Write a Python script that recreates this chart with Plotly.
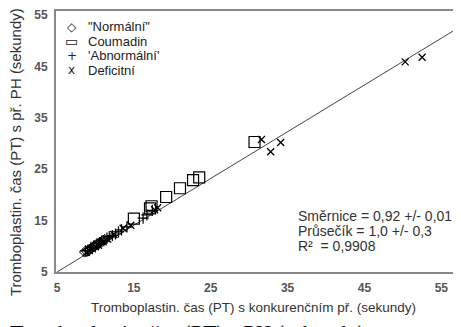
import plotly.graph_objects as go

# ---- data ----
normal_x = [8.6, 8.9, 9.1, 9.3, 9.5, 9.7, 9.9, 10.1, 10.3, 10.6, 10.9, 11.2]
normal_y = [8.9, 9.0, 9.3, 9.4, 9.6, 9.9, 10.0, 10.3, 10.4, 10.8, 11.0, 11.3]

coumadin_x = [15.0, 17.1, 17.3, 19.2, 21.0, 22.7, 23.5, 30.7]
coumadin_y = [15.4, 17.4, 17.8, 19.6, 21.3, 22.9, 23.4, 30.3]

abnormal_x = [8.7, 9.0, 9.4, 9.8, 10.2, 10.5, 10.8, 11.1, 11.5, 11.8, 12.2, 12.6, 13.0, 13.4, 14.1, 16.2, 16.7, 17.4]
abnormal_y = [9.1, 9.2, 9.8, 10.1, 10.5, 10.6, 11.0, 11.1, 11.6, 11.9, 12.1, 12.4, 12.8, 13.2, 13.8, 15.5, 16.1, 17.0]

deficit_x = [8.8, 9.2, 9.6, 10.0, 10.4, 11.0, 11.6, 12.4, 13.6, 14.6, 17.7, 18.1, 31.6, 32.8, 34.1, 50.3, 52.5]
deficit_y = [8.8, 9.2, 9.5, 9.9, 10.2, 10.9, 11.4, 12.3, 13.5, 14.1, 17.1, 17.5, 30.8, 28.4, 30.2, 45.9, 46.8]

fit_x = [5.0, 57.3]
fit_y = [5.0, 52.6]

tick_vals = [5, 15, 25, 35, 45, 55]
tick_text = ["5", "15", "25", "35", "45", "55"]

names = ['"Normální"', "Coumadin", "'Abnormální'", "Deficitní"]
legend_glyphs = ["◇", "▭", "+", "x"]
stats_lines = ["Směrnice = 0,92 +/- 0,01", "Průsečík = 1,0 +/- 0,3", "R²  = 0,9908"]
x_title = "Tromboplastin. čas (PT) s konkurenčním př. (sekundy)"
y_title = "Tromboplastin. čas (PT) s př. PH (sekundy)"
caption = "Tromboplastin. čas (PT) s PH (sekundy)"

FONT = "Liberation Sans, Arial, sans-serif"

# the page body adds an 8px offset; layout is expressed in window pixels and shifted
OFF = 8
PL, PT, PH = 56 - OFF, 9 - OFF, 263
FIG_W, FIG_H = 461 - OFF, 327 - OFF
PW = FIG_W - PL


def px_x(p):
    return (p - OFF - PL) / PW


def px_y(p):
    return (PT + PH - (p - OFF)) / PH


fig = go.Figure()
fig.add_trace(go.Scatter(x=fit_x, y=fit_y, mode="lines", line=dict(color="#444", width=1),
                         showlegend=False, hoverinfo="skip"))
fig.add_trace(go.Scatter(x=normal_x, y=normal_y, mode="markers", name=names[0], showlegend=False,
                         marker=dict(symbol="diamond-open", size=8, color="black",
                                     line=dict(width=1, color="black"))))
fig.add_trace(go.Scatter(x=coumadin_x, y=coumadin_y, mode="markers", name=names[1], showlegend=False,
                         marker=dict(symbol="square-open", size=11, color="black",
                                     line=dict(width=1.2, color="black"))))
fig.add_trace(go.Scatter(x=abnormal_x, y=abnormal_y, mode="markers", name=names[2], showlegend=False,
                         marker=dict(symbol="cross-thin", size=8, color="black",
                                     line=dict(width=1.2, color="black"))))
fig.add_trace(go.Scatter(x=deficit_x, y=deficit_y, mode="markers", name=names[3], showlegend=False,
                         marker=dict(symbol="x-thin", size=7, color="black",
                                     line=dict(width=1.3, color="black"))))

axis_common = dict(
    showgrid=False, zeroline=False, ticks="", showline=True, linecolor="#888",
    linewidth=2, mirror=True, tickvals=tick_vals, ticktext=tick_text,
    tickfont=dict(family=FONT, size=12, color="#555", weight="bold"),
    ticklabeloverflow="allow", ticklabelstandoff=4,
)

fig.update_xaxes(range=[4.87, 57.3], **axis_common)
fig.update_yaxes(range=[5.0, 55.8], **axis_common)

annotations = []
# legend drawn as text rows
for i, (g, n) in enumerate(zip(legend_glyphs, names)):
    yy = px_y(25 + 14.5 * i)
    annotations.append(dict(text=g, xref="paper", yref="paper", x=px_x(72), y=yy,
                            xanchor="center", yanchor="middle", showarrow=False,
                            font=dict(family="DejaVu Sans, sans-serif", size=12 if i != 1 else 14, color="#222")))
    annotations.append(dict(text=n, xref="paper", yref="paper", x=px_x(86), y=yy,
                            xanchor="left", yanchor="middle", showarrow=False,
                            font=dict(family=FONT, size=13, color="#222")))
for i, line in enumerate(stats_lines):
    annotations.append(dict(text=line, xref="paper", yref="paper", x=px_x(297),
                            y=px_y(216 + 14.7 * i), xanchor="left", yanchor="middle",
                            showarrow=False, font=dict(family=FONT, size=14, color="#333")))
annotations.append(dict(text=x_title, xref="paper", yref="paper", x=px_x(254), y=px_y(308),
                        xanchor="center", yanchor="middle", showarrow=False,
                        font=dict(family=FONT, size=13.5, color="#333")))
annotations.append(dict(text=y_title, xref="paper", yref="paper", x=px_x(16), y=px_y(151),
                        xanchor="center", yanchor="middle", textangle=-90, showarrow=False,
                        font=dict(family=FONT, size=15, color="#333")))
annotations.append(dict(text=caption, xref="paper", yref="paper", x=px_x(8), y=px_y(333),
                        xanchor="left", yanchor="middle", showarrow=False,
                        font=dict(family="Liberation Serif, Times New Roman, serif", size=22, color="black")))

fig.update_layout(
    width=FIG_W, height=FIG_H,
    margin=dict(l=PL, r=0, t=PT, b=FIG_H - PT - PH, pad=0),
    paper_bgcolor="white", plot_bgcolor="white",
    font=dict(family=FONT, size=11, color="#333"),
    showlegend=False,
    annotations=annotations,
)

fig.write_html("out.html")
